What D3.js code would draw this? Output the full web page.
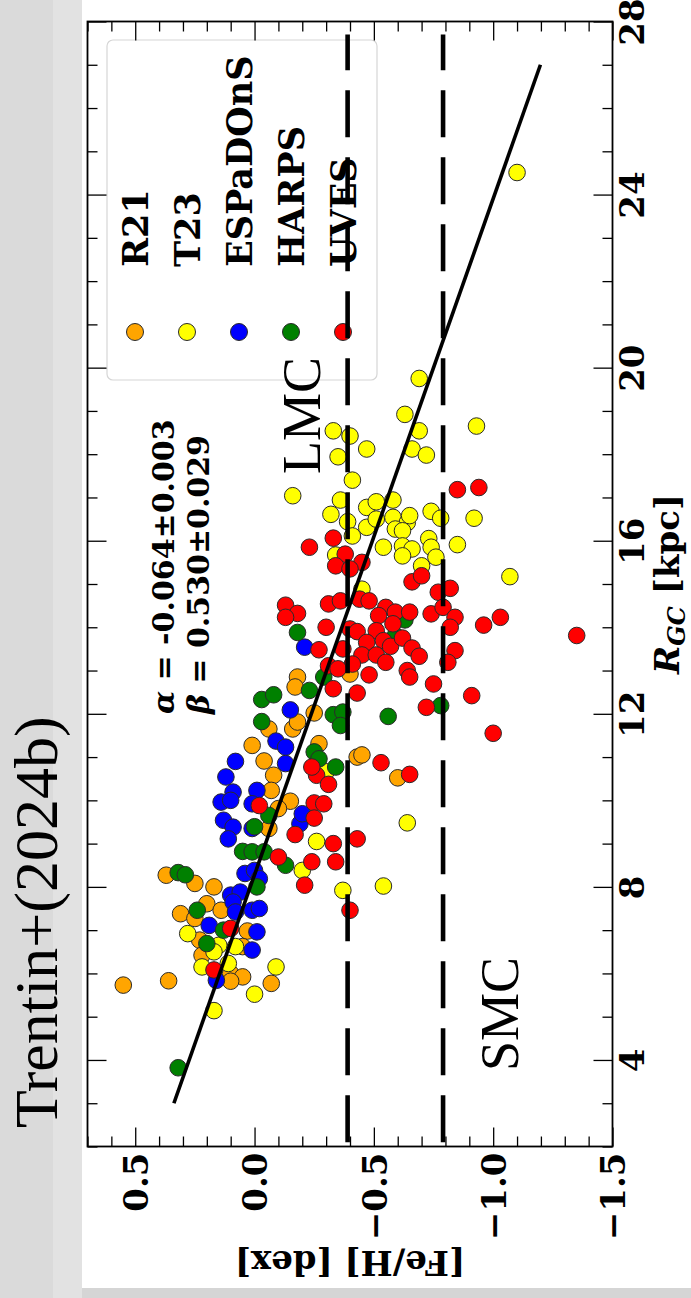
<!DOCTYPE html>
<html><head><meta charset="utf-8">
<script src="https://cdn.jsdelivr.net/npm/d3@7"></script>
<style>body{margin:0;background:#fff} svg{display:block}</style>
</head><body><svg id="c" width="691" height="1298"></svg>
<script>
// ---- data: [R_GC (kpc), [Fe/H] (dex)] ----
const R21 = [[12.85,-0.18],[12.62,-0.17],[12.02,-0.25],[11.65,-0.06],[11.65,-0.16],[11.81,-0.18],[11.27,0.01],[11.31,-0.27],[10.91,-0.04],[10.58,-0.08],[10.23,-0.07],[9.98,-0.15],[9.81,-0.10],[11.00,-0.43],[11.05,-0.45],[10.52,-0.60],[12.92,-0.40],[9.35,-0.06],[8.27,0.37],[8.08,0.25],[8.00,0.17],[7.61,0.20],[7.38,0.31],[7.46,0.14],[7.27,0.25],[6.98,0.03],[6.77,0.23],[6.62,0.05],[6.42,0.22],[6.00,0.10],[5.92,0.05],[5.82,0.10],[5.77,-0.07],[5.73,0.55],[5.83,0.36]];
const T23 = [[19.75,-0.69],[18.92,-0.63],[18.54,-0.69],[18.65,-0.93],[18.54,-0.33],[18.42,-0.40],[18.12,-0.47],[17.94,-0.35],[18.12,-0.66],[17.98,-0.72],[17.40,-0.41],[17.04,-0.16],[16.94,-0.36],[16.61,-0.32],[16.77,-0.47],[16.90,-0.51],[16.94,-0.58],[16.68,-0.74],[16.52,-0.78],[16.52,-0.92],[16.44,-0.39],[16.31,-0.47],[16.11,-0.41],[16.50,-0.51],[16.54,-0.58],[16.42,-0.64],[16.58,-0.65],[16.27,-0.59],[16.23,-0.62],[16.05,-0.73],[15.85,-0.74],[15.62,-0.76],[15.91,-0.85],[15.88,-0.62],[15.81,-0.66],[15.85,-0.54],[15.65,-0.62],[15.67,-0.34],[15.42,-0.70],[15.17,-1.07],[14.88,-0.45],[9.48,-0.64],[9.05,-0.26],[8.38,-0.20],[7.92,-0.37],[8.02,-0.54],[6.92,0.28],[6.65,0.15],[6.50,0.17],[6.62,0.08],[6.15,0.22],[6.23,0.11],[6.15,-0.09],[5.52,0.00],[5.14,0.17],[24.51,-1.10],[10.66,-0.30]];
const ESPaDOnS = [[13.54,-0.21],[12.09,-0.15],[11.37,-0.09],[11.23,-0.13],[10.85,-0.13],[10.23,-0.01],[9.92,0.01],[9.46,-0.19],[9.69,-0.20],[9.35,0.01],[10.90,0.08],[10.54,0.12],[9.96,0.14],[10.19,0.09],[10.00,0.10],[9.54,0.13],[9.38,0.09],[9.11,0.11],[8.31,0.04],[8.38,0.00],[8.19,-0.02],[7.81,0.10],[7.88,0.06],[7.65,0.09],[7.42,0.08],[7.46,0.01],[7.50,-0.02],[7.11,0.19],[6.96,-0.01],[6.54,0.01],[5.84,0.16]];
const HARPS = [[14.17,-0.63],[13.81,-0.59],[13.88,-0.18],[12.85,-0.29],[12.54,-0.23],[12.33,-0.03],[12.44,-0.08],[11.82,-0.03],[11.98,-0.33],[12.04,-0.37],[11.73,-0.36],[11.94,-0.56],[12.19,-0.78],[11.12,-0.25],[10.96,-0.27],[10.77,-0.34],[9.65,-0.06],[9.39,0.00],[8.82,0.05],[8.81,0.01],[8.81,-0.04],[8.50,-0.13],[8.33,0.32],[8.28,0.29],[8.00,-0.01],[7.46,0.24],[7.00,0.13],[6.69,0.20],[3.82,0.32]];
const UVES = [[17.18,-0.85],[17.23,-0.94],[16.06,-0.33],[15.85,-0.23],[15.69,-0.38],[15.42,-0.34],[15.50,-0.45],[15.35,-0.40],[15.05,-0.66],[15.19,-0.70],[14.81,-0.77],[14.90,-0.82],[14.51,-0.13],[14.32,-0.18],[14.23,-0.13],[14.54,-0.31],[14.61,-0.36],[14.65,-0.44],[14.61,-0.48],[14.46,-0.55],[14.27,-0.52],[14.35,-0.59],[14.35,-0.65],[14.31,-0.74],[14.46,-0.79],[14.23,-0.84],[14.00,-0.30],[13.96,-0.40],[13.90,-0.43],[13.92,-0.51],[14.08,-0.58],[13.65,-0.47],[13.69,-0.54],[13.56,-0.57],[13.75,-0.62],[13.52,-0.66],[13.33,-0.69],[14.00,-0.82],[13.46,-0.84],[13.19,-0.81],[14.05,-0.96],[14.23,-1.03],[13.48,-0.27],[13.50,-0.37],[13.36,-0.45],[13.15,-0.41],[13.36,-0.51],[13.19,-0.55],[12.90,-0.48],[13.00,-0.64],[12.85,-0.65],[13.11,-0.31],[13.04,-0.35],[12.69,-0.75],[12.42,-0.91],[12.58,-0.33],[12.48,-0.43],[12.15,-0.72],[11.55,-1.00],[10.87,-0.53],[10.60,-0.65],[10.58,-0.26],[10.37,-0.31],[10.77,-0.24],[9.94,-0.25],[9.92,-0.29],[9.59,-0.25],[9.21,-0.17],[9.00,-0.33],[9.11,-0.43],[9.88,-0.02],[8.69,-0.10],[8.58,-0.24],[8.58,-0.34],[8.04,-0.21],[7.46,-0.40],[7.04,0.10],[6.08,0.17],[13.81,-1.35]];

const seriesNames  = ["R21","T23","ESPaDOnS","HARPS","UVES"];
const seriesData   = [R21, T23, ESPaDOnS, HARPS, UVES];
const seriesColors = ["#FFA500","#FFFF00","#0000FF","#008000","#FF0000"];

const fehTicks = [0.5, 0.0, -0.5, -1.0, -1.5];
const fehTickLabels = ["0.5","0.0","\u22120.5","\u22121.0","\u22121.5"];
const rTicks = [4, 8, 12, 16, 20, 24, 28];
const rTickLabels = ["4","8","12","16","20","24","28"];

const fitAlpha = -0.064, fitBeta = 0.530;
const fitRange = [3, 27];
const fitText = ["\u03b1 = -0.064\u00b10.003", "\u03b2 = 0.530\u00b10.029"];
const cloudLines = [{name:"LMC", feh:-0.39}, {name:"SMC", feh:-0.79}];
const cloudLineRange = [2.1, 27.7];

// ---- layout ----
const svg = d3.select("#c");
const X0 = 87.5, X1 = 612.5, Y0 = 21.5, Y1 = 1146.5;
const x = d3.scaleLinear().domain([0.7, -1.5]).range([X0, X1]);   // [Fe/H] -> horizontal
const y = d3.scaleLinear().domain([2, 28]).range([Y1, Y0]);        // R_GC -> vertical
const BF = "'DejaVu Serif', serif";
const TF = "'Liberation Serif', 'Times New Roman', serif";

// background bands
svg.append("rect").attr("x",0).attr("y",0).attr("width",691).attr("height",1298).attr("fill","#fff");
svg.append("rect").attr("x",0).attr("y",0).attr("width",82).attr("height",1298).attr("fill","#e2e2e2");
svg.append("rect").attr("x",0).attr("y",0).attr("width",53).attr("height",1298).attr("fill","#dadada");
svg.append("rect").attr("x",82).attr("y",1288).attr("width",609).attr("height",10).attr("fill","#d5d5d5");

// title
svg.append("text").attr("transform","translate(57,1128) rotate(-90)")
  .attr("font-family",TF).attr("font-size",62).attr("fill","#000").text("Trentin+(2024b)");

// legend box
const leg = svg.append("g");
leg.append("rect").attr("x",107).attr("y",40).attr("width",270).attr("height",340).attr("rx",6)
  .attr("fill","#fff").attr("stroke","#d6d6d6").attr("stroke-width",1.2);
seriesNames.forEach((n,i)=>{
  const lx = 135 + i*52;
  leg.append("circle").attr("cx",lx).attr("cy",332).attr("r",8.5)
    .attr("fill",seriesColors[i]).attr("stroke","#2a2a2a").attr("stroke-width",1);
  leg.append("text").attr("transform",`translate(${lx+13},267) rotate(-90)`)
    .attr("font-family",BF).attr("font-weight","bold").attr("font-size",35).text(n);
});

// points
seriesData.forEach((arr,i)=>{
  svg.append("g").selectAll("circle").data(arr).join("circle")
    .attr("cx",d=>x(d[1])).attr("cy",d=>y(d[0])).attr("r",8.3)
    .attr("fill",seriesColors[i]).attr("stroke","#2a2a2a").attr("stroke-width",1);
});

// fit line
const fitLine = d3.line().x(d=>x(fitAlpha*d+fitBeta)).y(d=>y(d));
svg.append("path").attr("d",fitLine(fitRange)).attr("stroke","#000").attr("stroke-width",3.6).attr("fill","none");

// LMC / SMC dashed lines (drawn from bottom upward)
cloudLines.forEach(c=>{
  svg.append("path").attr("d",d3.line().x(()=>x(c.feh)).y(d=>y(d))(cloudLineRange))
    .attr("stroke","#000").attr("stroke-width",4.6).attr("stroke-dasharray","47,20").attr("fill","none");
});
svg.append("text").attr("transform","translate(320,474) rotate(-90)")
  .attr("font-family",TF).attr("font-size",54).text(cloudLines[0].name);
svg.append("text").attr("transform","translate(518,1071) rotate(-90)")
  .attr("font-family",TF).attr("font-size",54).text(cloudLines[1].name);

// fit text
fitText.forEach((t,i)=>{
  const tx = svg.append("text").attr("transform",`translate(${173.5+i*35},714) rotate(-90)`)
    .attr("font-family",BF).attr("font-weight","bold").attr("font-size",30);
  tx.append("tspan").attr("font-style","italic").text(t.slice(0,1));
  tx.append("tspan").text(t.slice(1));
});

// axes
function minorTicks(lo,hi,step){const r=[];for(let v=lo;v<=hi+1e-9;v+=step)r.push(+v.toFixed(3));return r;}
const fehMinor = minorTicks(-1.5,0.7,0.1).filter(v=>!fehTicks.some(t=>Math.abs(t-v)<1e-6));
const rMinor = minorTicks(2,28,1).filter(v=>!rTicks.includes(v));

function styleAxis(g){ g.select(".domain").remove(); g.selectAll("line").attr("stroke","#000").attr("stroke-width",1.3); }

// bottom
const gb = svg.append("g").attr("transform",`translate(0,${Y1})`)
  .call(d3.axisBottom(x).tickValues(fehTicks).tickSize(-19).tickFormat((d,i)=>fehTickLabels[i]));
styleAxis(gb);
gb.selectAll("text").attr("x",0).attr("y",0).attr("dy","0.36em").attr("text-anchor","end")
  .attr("transform","translate(0,6) rotate(-90)")
  .attr("font-family",BF).attr("font-weight","bold").attr("font-size",34).attr("fill","#000");
const gbm = svg.append("g").attr("transform",`translate(0,${Y1})`)
  .call(d3.axisBottom(x).tickValues(fehMinor).tickSize(-10).tickFormat(""));
styleAxis(gbm);
// top
[ [fehTicks,19], [fehMinor,10] ].forEach(([tv,s])=>{
  const g = svg.append("g").attr("transform",`translate(0,${Y0})`)
    .call(d3.axisTop(x).tickValues(tv).tickSize(-s).tickFormat(""));
  styleAxis(g);
});
// left
[ [rTicks,19], [rMinor,10] ].forEach(([tv,s])=>{
  const g = svg.append("g").attr("transform",`translate(${X0},0)`)
    .call(d3.axisLeft(y).tickValues(tv).tickSize(-s).tickFormat(""));
  styleAxis(g);
});
// right
const gr = svg.append("g").attr("transform",`translate(${X1},0)`)
  .call(d3.axisRight(y).tickValues(rTicks).tickSize(-19).tickFormat((d,i)=>rTickLabels[i]));
styleAxis(gr);
gr.selectAll("text").attr("x",0).attr("y",0).attr("dy",0).attr("text-anchor","middle")
  .attr("transform","translate(31.5,0) rotate(-90)")
  .attr("font-family",BF).attr("font-weight","bold").attr("font-size",34).attr("fill","#000");
const grm = svg.append("g").attr("transform",`translate(${X1},0)`)
  .call(d3.axisRight(y).tickValues(rMinor).tickSize(-10).tickFormat(""));
styleAxis(grm);

// frame
svg.append("rect").attr("x",X0).attr("y",Y0).attr("width",X1-X0).attr("height",Y1-Y0)
  .attr("fill","none").attr("stroke","#000").attr("stroke-width",1.8);

// axis labels
svg.append("text").attr("transform",`translate(350,1251) rotate(180)`)
  .attr("text-anchor","middle").attr("font-family",BF).attr("font-weight","bold").attr("font-size",34)
  .text("[Fe/H] [dex]");
const yl = svg.append("text").attr("transform",`translate(679,${(Y0+Y1)/2}) rotate(-90)`)
  .attr("text-anchor","middle").attr("font-family",BF).attr("font-weight","bold").attr("font-size",34);
yl.append("tspan").attr("font-style","italic").text("R");
yl.append("tspan").attr("font-style","italic").attr("font-size",24).attr("dy",6).text("GC");
yl.append("tspan").attr("dy",-6).text(" [kpc]");
</script></body></html>
